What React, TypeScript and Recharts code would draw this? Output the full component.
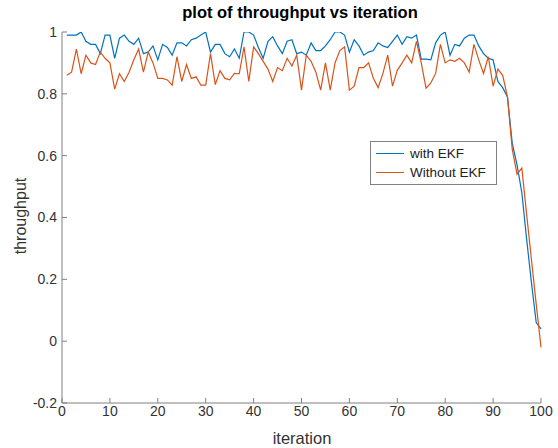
import React from 'react'
import { LineChart, Line, XAxis, YAxis, Legend } from 'recharts'

// iteration index 1..100
const iterations = Array.from({ length: 100 }, (_, i) => i + 1)

const withEkf = [
  0.99, 0.99, 0.99, 1.0, 0.97, 0.96, 0.96, 0.93, 0.99, 0.99,
  0.915, 0.98, 0.99, 0.97, 0.96, 0.98, 0.93, 0.935, 0.955, 0.91,
  0.96, 0.95, 0.925, 0.965, 0.965, 0.955, 0.975, 0.98, 0.99, 1.0,
  0.935, 0.96, 0.96, 0.93, 0.92, 0.945, 0.915, 1.0, 1.0, 0.99,
  0.95, 0.915, 0.97, 0.985, 0.955, 0.93, 0.97, 0.975, 0.93, 0.935,
  0.925, 0.965, 0.94, 0.94, 0.955, 0.975, 1.0, 1.0, 0.99, 0.935,
  0.975, 0.955, 0.925, 0.935, 0.94, 0.965, 0.955, 0.95, 0.97, 0.99,
  0.96, 0.985, 0.98, 0.99, 0.912, 0.912, 0.91, 0.965, 0.99, 1.0,
  0.925, 0.96, 0.955, 0.98, 0.99, 0.99, 0.955, 0.93, 0.915, 0.91,
  0.84, 0.82, 0.79, 0.64, 0.57, 0.48, 0.33, 0.19, 0.06, 0.04,
]

const withoutEkf = [
  0.86, 0.87, 0.945, 0.865, 0.925, 0.9, 0.895, 0.935, 0.915, 0.9,
  0.815, 0.865, 0.84, 0.87, 0.91, 0.945, 0.87, 0.935, 0.9, 0.85,
  0.85, 0.845, 0.828, 0.92, 0.84, 0.895, 0.85, 0.855, 0.828, 0.828,
  0.93, 0.83, 0.875, 0.85, 0.845, 0.866, 0.865, 0.952, 0.84, 0.952,
  0.93, 0.905, 0.88, 0.84, 0.885, 0.875, 0.915, 0.89, 0.925, 0.812,
  0.925, 0.905, 0.87, 0.812, 0.9, 0.812, 0.9, 0.94, 0.952, 0.812,
  0.825, 0.885, 0.885, 0.9, 0.85, 0.82, 0.866, 0.925, 0.825, 0.876,
  0.9, 0.925, 0.9, 0.97, 0.9, 0.818, 0.835, 0.866, 0.96, 0.9,
  0.91, 0.905, 0.915, 0.9, 0.87, 0.96, 0.91, 0.866, 0.92, 0.825,
  0.88, 0.86, 0.79, 0.62, 0.54, 0.56, 0.41, 0.265, 0.12, -0.02,
]

const xTicks = [0, 10, 20, 30, 40, 50, 60, 70, 80, 90, 100]
const yTicks = [-0.2, 0, 0.2, 0.4, 0.6, 0.8, 1]

const seriesNames = ['with EKF', 'Without EKF']
const seriesColors = ['#0072BD', '#D95319']

const data = iterations.map((it, i) => ({
  iteration: it,
  withEkf: withEkf[i],
  withoutEkf: withoutEkf[i],
}))

const font = '"Liberation Sans", Arial, Helvetica, sans-serif'
const axisColor = '#808080'
const tickStyle = { fill: '#333', fontSize: 14, fontFamily: font }

function LegendBox() {
  return (
    <div
      style={{
        border: `1px solid ${axisColor}`,
        background: '#fff',
        padding: '2px 10px 2px 5px',
        fontFamily: font,
        fontSize: 13.5,
        color: '#222',
      }}
    >
      {seriesNames.map((n, i) => (
        <div key={n} style={{ display: 'flex', alignItems: 'center', height: 19 }}>
          <span style={{ width: 28, borderTop: `1.3px solid ${seriesColors[i]}`, marginRight: 6 }} />
          {n}
        </div>
      ))}
    </div>
  )
}

export default function App() {
  return (
    <div style={{ position: 'absolute', left: 0, top: 0, width: 558, height: 448, background: '#fff' }}>
      <div
        style={{
          position: 'absolute', left: 0, width: 600, top: 3, textAlign: 'center',
          fontFamily: font, fontWeight: 'bold', fontSize: 16.5, color: '#000',
        }}
      >
        plot of throughput vs iteration
      </div>
      <div
        style={{
          position: 'absolute', left: 0, width: 604, top: 429, textAlign: 'center',
          fontFamily: font, fontSize: 16.5, color: '#333',
        }}
      >
        iteration
      </div>
      <div
        style={{
          position: 'absolute', left: 21, top: 216, transform: 'translate(-50%, -50%) rotate(-90deg)',
          fontFamily: font, fontSize: 16, color: '#333', whiteSpace: 'nowrap',
        }}
      >
        throughput
      </div>
      <LineChart width={558} height={448} data={data} margin={{ top: 32, right: 17, bottom: 0, left: 0 }}>
        <XAxis
          xAxisId="bottom"
          dataKey="iteration"
          type="number"
          domain={[0, 100]}
          ticks={xTicks}
          height={45}
          stroke={axisColor}
          tickSize={-5}
          tickMargin={8}
          tick={tickStyle}
        />
        <XAxis
          xAxisId="top"
          orientation="top"
          dataKey="iteration"
          type="number"
          domain={[0, 100]}
          ticks={xTicks}
          height={0}
          stroke={axisColor}
          tickSize={-5}
          tickFormatter={() => ''}
        />
        <YAxis
          yAxisId="left"
          type="number"
          domain={[-0.2, 1]}
          ticks={yTicks}
          width={62}
          stroke={axisColor}
          tickSize={-5}
          tickMargin={10}
          tick={tickStyle}
          allowDataOverflow
        />
        <YAxis
          yAxisId="right"
          orientation="right"
          type="number"
          domain={[-0.2, 1]}
          ticks={yTicks}
          width={0}
          stroke={axisColor}
          tickSize={-5}
          tickFormatter={() => ''}
        />
        <Legend
          layout="vertical"
          align="center"
          verticalAlign="middle"
          content={<LegendBox />}
          wrapperStyle={{ left: 370, top: 141, width: 'auto' }}
        />
        <Line
          xAxisId="bottom"
          yAxisId="left"
          dataKey="withEkf"
          name={seriesNames[0]}
          stroke={seriesColors[0]}
          strokeWidth={1.2}
          dot={false}
          isAnimationActive={false}
        />
        <Line
          xAxisId="bottom"
          yAxisId="left"
          dataKey="withoutEkf"
          name={seriesNames[1]}
          stroke={seriesColors[1]}
          strokeWidth={1.2}
          dot={false}
          isAnimationActive={false}
        />
      </LineChart>
    </div>
  )
}
